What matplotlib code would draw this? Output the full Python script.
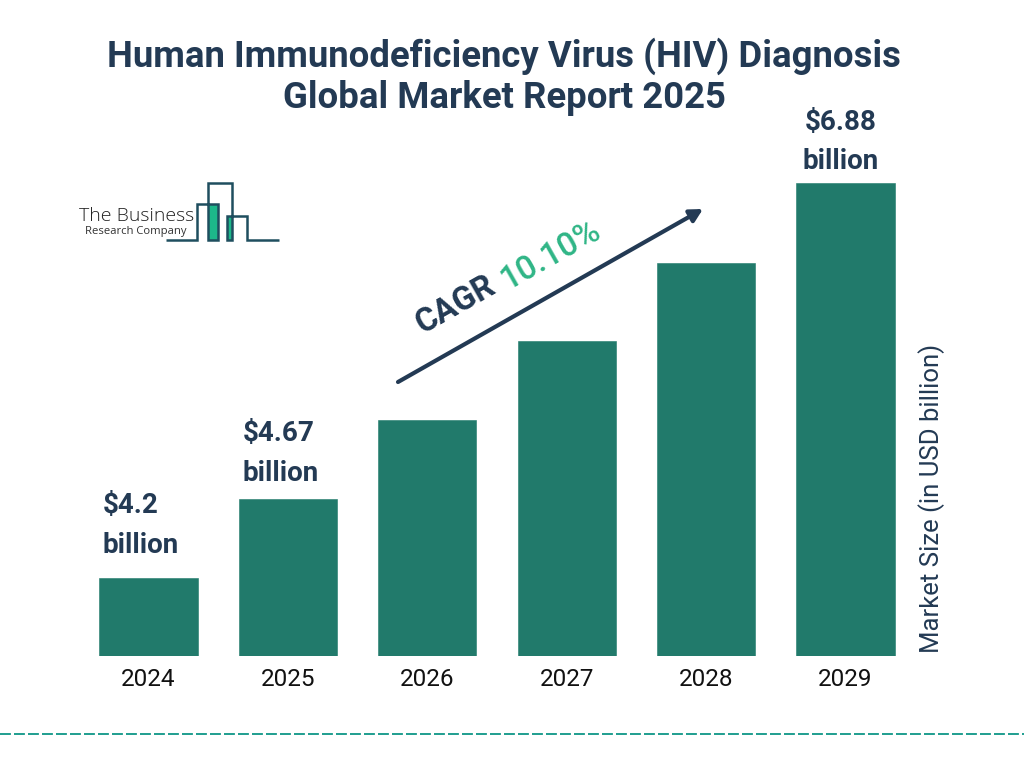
import matplotlib
matplotlib.use("Agg")
import matplotlib.pyplot as plt
from matplotlib.patches import Rectangle

plt.rcParams['font.family'] = ['Roboto', 'DejaVu Sans']

years = ['2024', '2025', '2026', '2027', '2028', '2029']
# bars in the picture are evenly stepped, so heights are read off the image, not from the labels
bar_values = [4.2, 4.735, 5.27, 5.81, 6.34, 6.88]
label_years = [0, 1, 5]
label_texts = ['$4.2\nbillion', '$4.67\nbillion', '$6.88\nbillion']
title_lines = ['Human Immunodeficiency Virus (HIV) Diagnosis', 'Global Market Report 2025']

navy = '#233A54'
bar_col = '#217A6B'
green = '#2FB586'
teal = '#1F9E8F'
logo_col = '#1F4E5F'

W, H = 1024, 768
fig = plt.figure(figsize=(W / 100, H / 100), dpi=100)

# overlay in pixel coords for the logo, arrow and footer
over = fig.add_axes([0, 0, 1, 1])
over.set_xlim(0, W)
over.set_ylim(H, 0)
over.axis('off')

# bar axes
left, right, top, base = 79, 915, 170, 656
ax = fig.add_axes([left / W, 1 - base / H, (right - left) / W, (base - top) / H])
ax.patch.set_alpha(0)
step = 139.4
ax.set_xlim((left - 148.5) / step, (right - 148.5) / step)
per_px = (6.88 - 4.2) / (578 - 183)
y0 = 4.2 - (656 - 578) * per_px
ax.set_ylim(y0, 6.88 + (183 - top) * per_px)
ax.bar(range(len(years)), [v - y0 for v in bar_values], bottom=y0, width=0.704,
       color=bar_col, edgecolor=bar_col, linewidth=0.4, joinstyle='round')
for s in ax.spines.values():
    s.set_visible(False)
ax.set_yticks([])
ax.set_xticks(range(len(years)))
ax.set_xticklabels(years, fontsize=17.5, color='#111111')
ax.tick_params(axis='x', length=0, pad=8.5)

# two separate texts so the title box stays clear of the $6.88 label
for line, py in zip(title_lines, [67, 108]):
    over.text(504, py, line, ha='center', va='baseline', fontsize=26.3,
              fontweight='bold', color=navy)

# value labels above the labelled bars
label_x = {0: 103, 1: 243, 5: 841}
label_y = {0: 525.5, 1: 453.5, 5: 142}
for i, txt in zip(label_years, label_texts):
    centred = i == 5
    over.text(label_x[i], label_y[i], txt, ha='center' if centred else 'left', va='center',
              fontsize=20, fontweight='bold', color=navy, linespacing=1.6,
              multialignment='center' if centred else 'left')

over.text(932, 498.5, 'Market Size (in USD billion)', rotation=90, ha='center', va='center',
          fontsize=18.5, color=navy)

# CAGR arrow
over.annotate('', xy=(703, 209), xytext=(398, 382),
              arrowprops=dict(arrowstyle='-|>,head_length=0.75,head_width=0.4', color=navy,
                              lw=3, shrinkA=0, shrinkB=0))
over.text(456, 305, 'CAGR', rotation=29.5, ha='center', va='center', rotation_mode='anchor',
          fontsize=23.5, fontweight='bold', color=navy)
over.text(551, 255, '10.10%', rotation=29.5, ha='center', va='center', rotation_mode='anchor',
          fontsize=24, fontweight='medium', color=green)

# logo
over.add_patch(Rectangle((208, 204), 10, 36, color='#1DB88A', lw=0))
over.add_patch(Rectangle((227, 216), 5, 24, color='#1DB88A', lw=0))
over.plot([166, 197, 197, 218, 218, 208, 208, 232, 232, 227, 227, 247, 247, 279],
          [240, 240, 204, 204, 240, 240, 183, 183, 240, 240, 216, 216, 240, 240],
          color=logo_col, lw=1.8, solid_joinstyle='miter', solid_capstyle='butt')
over.text(79, 216, 'The Business', ha='left', va='center', fontsize=14, color='#222222',
          fontfamily='Open Sans', fontweight='light')
over.text(85, 231.5, 'Research Company', ha='left', va='center', fontsize=8.1, color='#333333',
          fontfamily='Open Sans')

# footer dashes
over.plot([0, W], [734, 734], color=teal, lw=1.4, dashes=(5.6, 1.6))

fig.savefig('out.png', dpi=100)
